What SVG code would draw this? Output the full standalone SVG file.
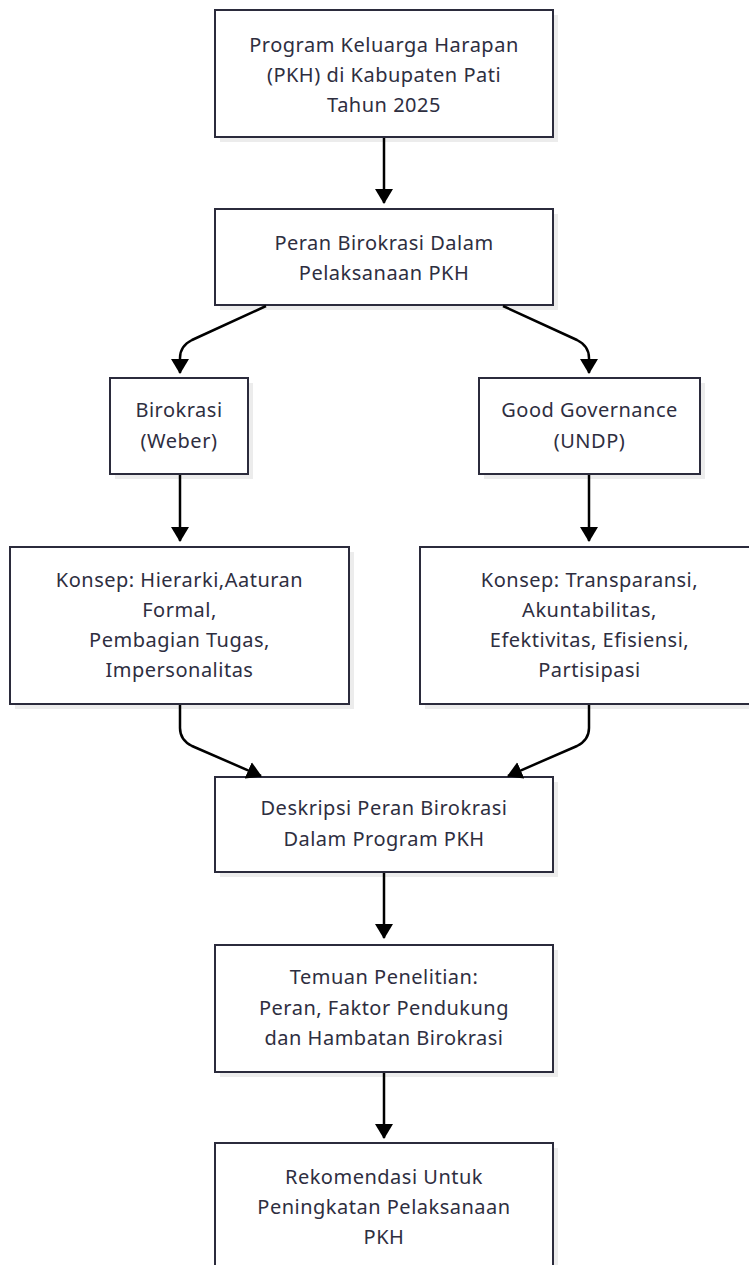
<svg xmlns="http://www.w3.org/2000/svg" width="749" height="1265" viewBox="0 0 749 1265">
<style>
.shadow{fill:#ececec;stroke:none}
.box{fill:#ffffff;stroke:#2b2b3c;stroke-width:2}
.lbl{font-family:"Noto Sans","Liberation Sans",sans-serif;font-size:20px;letter-spacing:0.5px;fill:#2e2e3f;text-anchor:middle}
.edge{fill:none;stroke:#000;stroke-width:2.5}
</style>
<defs>
<marker id="ah" viewBox="0 0 15 18" refX="14" refY="9" markerWidth="15" markerHeight="18" markerUnits="userSpaceOnUse" orient="auto">
<path d="M0,0 L15,9 L0,18 z" fill="#000"/>
</marker>
</defs>
<rect width="749" height="1265" fill="#fff"/>
<g id="n1">
<rect class="shadow" x="220" y="15" width="338" height="127"/>
<rect class="box" x="215" y="10" width="338" height="127"/>
<text class="lbl" x="384" y="45" dy="0.35em">Program Keluarga Harapan</text>
<text class="lbl" x="384" y="75" dy="0.35em">(PKH) di Kabupaten Pati</text>
<text class="lbl" x="384" y="105" dy="0.35em">Tahun 2025</text>
</g>
<g id="n2">
<rect class="shadow" x="220" y="214" width="338" height="96"/>
<rect class="box" x="215" y="209" width="338" height="96"/>
<text class="lbl" x="384" y="243" dy="0.35em">Peran Birokrasi Dalam</text>
<text class="lbl" x="384" y="273" dy="0.35em">Pelaksanaan PKH</text>
</g>
<g id="n3">
<rect class="shadow" x="115" y="383" width="138" height="96"/>
<rect class="box" x="110" y="378" width="138" height="96"/>
<text class="lbl" x="179" y="410" dy="0.35em">Birokrasi</text>
<text class="lbl" x="179" y="441" dy="0.35em">(Weber)</text>
</g>
<g id="n4">
<rect class="shadow" x="484" y="383" width="221" height="96"/>
<rect class="box" x="479" y="378" width="221" height="96"/>
<text class="lbl" x="589.5" y="410" dy="0.35em">Good Governance</text>
<text class="lbl" x="589.5" y="441" dy="0.35em">(UNDP)</text>
</g>
<g id="n5">
<rect class="shadow" x="15" y="552" width="339" height="157"/>
<rect class="box" x="10" y="547" width="339" height="157"/>
<text class="lbl" x="179.5" y="580" dy="0.35em">Konsep: Hierarki,Aaturan</text>
<text class="lbl" x="179.5" y="610" dy="0.35em">Formal,</text>
<text class="lbl" x="179.5" y="640" dy="0.35em">Pembagian Tugas,</text>
<text class="lbl" x="179.5" y="670" dy="0.35em">Impersonalitas</text>
</g>
<g id="n6">
<rect class="shadow" x="425" y="552" width="339" height="157"/>
<rect class="box" x="420" y="547" width="339" height="157"/>
<text class="lbl" x="589.5" y="580" dy="0.35em">Konsep: Transparansi,</text>
<text class="lbl" x="589.5" y="610" dy="0.35em">Akuntabilitas,</text>
<text class="lbl" x="589.5" y="640" dy="0.35em">Efektivitas, Efisiensi,</text>
<text class="lbl" x="589.5" y="670" dy="0.35em">Partisipasi</text>
</g>
<g id="n7">
<rect class="shadow" x="220" y="782" width="338" height="95"/>
<rect class="box" x="215" y="777" width="338" height="95"/>
<text class="lbl" x="384" y="808" dy="0.35em">Deskripsi Peran Birokrasi</text>
<text class="lbl" x="384" y="839" dy="0.35em">Dalam Program PKH</text>
</g>
<g id="n8">
<rect class="shadow" x="220" y="950" width="338" height="127"/>
<rect class="box" x="215" y="945" width="338" height="127"/>
<text class="lbl" x="384" y="977" dy="0.35em">Temuan Penelitian:</text>
<text class="lbl" x="384" y="1008" dy="0.35em">Peran, Faktor Pendukung</text>
<text class="lbl" x="384" y="1038" dy="0.35em">dan Hambatan Birokrasi</text>
</g>
<g id="n9">
<rect class="shadow" x="220" y="1148" width="338" height="127"/>
<rect class="box" x="215" y="1143" width="338" height="127"/>
<text class="lbl" x="384" y="1177" dy="0.35em">Rekomendasi Untuk</text>
<text class="lbl" x="384" y="1207" dy="0.35em">Peningkatan Pelaksanaan</text>
<text class="lbl" x="384" y="1237" dy="0.35em">PKH</text>
</g>
<g id="connectors">
<path class="edge" d="M384,138 L384,203" marker-end="url(#ah)"/>
<path class="edge" d="M266,306 L192,340 Q180,346 180,358 L180,373" marker-end="url(#ah)"/>
<path class="edge" d="M503,306 L577,340 Q589,346 589,358 L589,373" marker-end="url(#ah)"/>
<path class="edge" d="M180,475 L180,541" marker-end="url(#ah)"/>
<path class="edge" d="M589,475 L589,541" marker-end="url(#ah)"/>
<path class="edge" d="M180,705 L180,728 Q180,740 192,746 L261,776" marker-end="url(#ah)"/>
<path class="edge" d="M589,705 L589,728 Q589,740 577,746 L508,776" marker-end="url(#ah)"/>
<path class="edge" d="M384,873 L384,938" marker-end="url(#ah)"/>
<path class="edge" d="M384,1073 L384,1138" marker-end="url(#ah)"/>
</g>
</svg>
